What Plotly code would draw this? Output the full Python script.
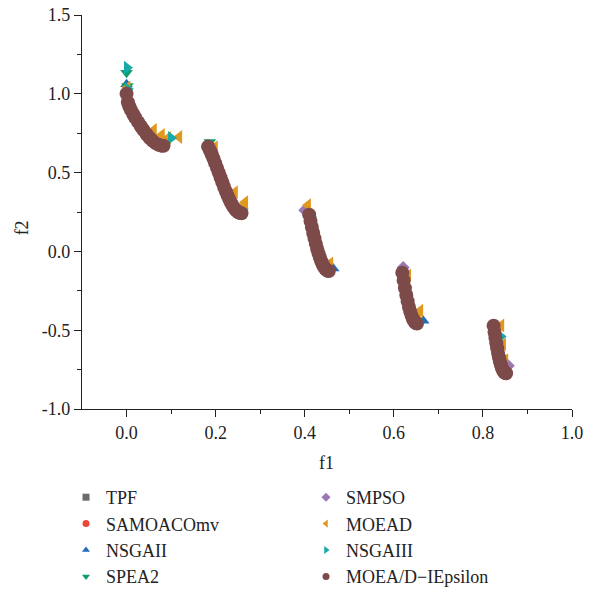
import plotly.graph_objects as go

# ---- data ----
tpf_x = [0.000, 0.010, 0.020, 0.030, 0.040, 0.050, 0.060, 0.070, 0.083,
         0.183, 0.191, 0.199, 0.207, 0.215, 0.223, 0.231, 0.239, 0.247, 0.258,
         0.410, 0.416, 0.422, 0.428, 0.434, 0.440, 0.446, 0.454,
         0.619, 0.625, 0.631, 0.637, 0.643, 0.652,
         0.824, 0.828, 0.832, 0.836, 0.840, 0.846, 0.852]
tpf_y = [1.000, 0.897, 0.847, 0.803, 0.762, 0.726, 0.698, 0.679, 0.670,
         0.665, 0.616, 0.560, 0.500, 0.439, 0.380, 0.328, 0.286, 0.257, 0.242,
         0.233, 0.155, 0.082, 0.016, -0.039, -0.082, -0.110, -0.124,
         -0.135, -0.233, -0.316, -0.383, -0.430, -0.458,
         -0.472, -0.548, -0.614, -0.671, -0.715, -0.759, -0.773]

samoaco_x = [0.001, 0.015, 0.035, 0.055, 0.075,
             0.185, 0.200, 0.215, 0.230, 0.250,
             0.411, 0.425, 0.438, 0.452,
             0.620, 0.630, 0.641, 0.651,
             0.825, 0.833, 0.842, 0.851]
samoaco_y = [0.975, 0.868, 0.780, 0.710, 0.672,
             0.652, 0.552, 0.438, 0.334, 0.250,
             0.219, 0.048, -0.069, -0.123,
             -0.150, -0.303, -0.415, -0.457,
             -0.492, -0.629, -0.733, -0.774]

nsgaii_x = [0.000, 0.012, 0.032, 0.058, 0.080,
            0.186, 0.204, 0.222, 0.240, 0.256,
            0.412, 0.427, 0.442, 0.464,
            0.622, 0.636, 0.650, 0.666,
            0.826, 0.837, 0.848]
nsgaii_y = [1.060, 0.890, 0.800, 0.708, 0.675,
            0.650, 0.526, 0.392, 0.287, 0.246,
            0.210, 0.030, -0.090, -0.108,
            -0.180, -0.370, -0.452, -0.440,
            -0.505, -0.680, -0.765]

spea2_x = [0.000, 0.002, 0.020, 0.045, 0.085,
           0.187, 0.205, 0.226, 0.248, 0.260,
           0.413, 0.430, 0.448,
           0.623, 0.638, 0.652,
           0.827, 0.839, 0.850]
spea2_y = [1.134, 1.050, 0.855, 0.755, 0.700,
           0.694, 0.520, 0.365, 0.265, 0.255,
           0.205, 0.000, -0.110,
           -0.190, -0.385, -0.450,
           -0.515, -0.700, -0.770]

smpso_x = [0.004, 0.025, 0.050, 0.070,
           0.190, 0.212, 0.234, 0.252,
           0.400, 0.418, 0.436, 0.450,
           0.621, 0.633, 0.647,
           0.829, 0.843, 0.857]
smpso_y = [0.960, 0.830, 0.735, 0.685,
           0.630, 0.470, 0.315, 0.255,
           0.261, 0.135, -0.045, -0.115,
           -0.102, -0.330, -0.445,
           -0.560, -0.735, -0.725]

moead_x = [0.002, 0.061, 0.079, 0.093, 0.118,
           0.198, 0.243, 0.266, 0.262,
           0.407, 0.457, 0.450,
           0.632, 0.659, 0.655,
           0.841, 0.845, 0.850]
moead_y = [1.040, 0.771, 0.739, 0.720, 0.726,
           0.662, 0.376, 0.312, 0.290,
           0.293, -0.076, -0.090,
           -0.153, -0.376, -0.420,
           -0.470, -0.590, -0.690]

nsgaiii_x = [0.001, 0.003, 0.030, 0.068, 0.100,
             0.192, 0.218, 0.238, 0.258,
             0.414, 0.433, 0.452,
             0.624, 0.640, 0.655,
             0.840, 0.846]
nsgaiii_y = [1.166, 1.030, 0.815, 0.700, 0.720,
             0.640, 0.425, 0.305, 0.260,
             0.195, -0.015, -0.105,
             -0.205, -0.400, -0.445,
             -0.540, -0.745]

moeadie_x = [0.000, 0.003, 0.006, 0.010, 0.015, 0.020, 0.026, 0.032, 0.038, 0.045,
             0.052, 0.058, 0.065, 0.072, 0.078, 0.083,
             0.183, 0.187, 0.191, 0.195, 0.199, 0.203, 0.207, 0.211, 0.215, 0.219,
             0.223, 0.227, 0.231, 0.235, 0.239, 0.243, 0.247, 0.251, 0.255, 0.258,
             0.410, 0.413, 0.416, 0.419, 0.422, 0.425, 0.428, 0.431, 0.434, 0.437,
             0.440, 0.443, 0.446, 0.449, 0.452, 0.454,
             0.619, 0.622, 0.625, 0.628, 0.631, 0.634, 0.637, 0.640, 0.643, 0.646,
             0.649, 0.652,
             0.824, 0.826, 0.828, 0.830, 0.832, 0.834, 0.836, 0.838, 0.840, 0.842,
             0.844, 0.846, 0.848, 0.850, 0.852]
moeadie_y = [1.000, 0.945, 0.921, 0.897, 0.870, 0.847, 0.820, 0.794, 0.770, 0.743,
             0.720, 0.703, 0.687, 0.676, 0.671, 0.670,
             0.665, 0.642, 0.616, 0.589, 0.560, 0.530, 0.500, 0.469, 0.439, 0.409,
             0.380, 0.353, 0.328, 0.306, 0.286, 0.270, 0.257, 0.248, 0.243, 0.242,
             0.233, 0.193, 0.155, 0.117, 0.082, 0.048, 0.016, -0.013, -0.039, -0.062,
             -0.082, -0.098, -0.110, -0.119, -0.123, -0.124,
             -0.135, -0.185, -0.233, -0.277, -0.316, -0.352, -0.383, -0.409, -0.430, -0.445,
             -0.454, -0.458,
             -0.472, -0.511, -0.548, -0.583, -0.614, -0.644, -0.671, -0.695, -0.715, -0.733,
             -0.748, -0.759, -0.767, -0.772, -0.773]

names = ["TPF", "SAMOACOmv", "NSGAII", "SPEA2", "SMPSO", "MOEAD", "NSGAIII", "MOEA/D\u2212IEpsilon"]
xs = [tpf_x, samoaco_x, nsgaii_x, spea2_x, smpso_x, moead_x, nsgaiii_x, moeadie_x]
ys = [tpf_y, samoaco_y, nsgaii_y, spea2_y, smpso_y, moead_y, nsgaiii_y, moeadie_y]
colors = ["#6b6b6b", "#ef4438", "#1f6db8", "#0f9e6e", "#9b77b4", "#e0981f", "#17aaa8", "#7d4a4a"]
symbols = ["square", "circle", "triangle-up", "triangle-down", "diamond",
           "triangle-left", "triangle-right", "circle"]
sizes = [9, 9, 11, 11, 10, 12, 12, 14]
leg_sizes = [7, 7, 7, 7, 7, 7, 7, 7]

FONT = "Liberation Serif"
W, H = 594, 614

fig = go.Figure()
for n, x, y, c, s, sz in zip(names, xs, ys, colors, symbols, sizes):
    fig.add_trace(go.Scatter(x=x, y=y, mode="markers", name=n, showlegend=False,
                             marker=dict(color=c, symbol=s, size=sz, line=dict(width=0))))

# legend entries (small symbols), two columns
for i, (n, c, s, ls) in enumerate(zip(names, colors, symbols, leg_sizes)):
    fig.add_trace(go.Scatter(x=[None], y=[None], mode="markers", name=n,
                             legend="legend" if i < 4 else "legend2",
                             marker=dict(color=c, symbol=s, size=ls, line=dict(width=0))))

axis_common = dict(showline=True, linecolor="#222", linewidth=1.3, showgrid=False,
                   zeroline=False, ticks="outside", ticklen=7, tickwidth=1.3, tickcolor="#222",
                   tickfont=dict(family=FONT, size=18, color="#222"))

fig.update_xaxes(range=[-0.1, 1.0], tickvals=[0.0, 0.2, 0.4, 0.6, 0.8, 1.0],
                 ticktext=["0.0", "0.2", "0.4", "0.6", "0.8", "1.0"],
                 minor=dict(tickvals=[0.1, 0.3, 0.5, 0.7, 0.9], ticks="outside", ticklen=4,
                            tickwidth=1.3, tickcolor="#222"),
                 **axis_common)
fig.update_yaxes(range=[-1.0, 1.5], tickvals=[-1.0, -0.5, 0.0, 0.5, 1.0, 1.5],
                 ticktext=["-1.0", "-0.5", "0.0", "0.5", "1.0", "1.5"],
                 minor=dict(tickvals=[-0.75, -0.25, 0.25, 0.75, 1.25], ticks="outside", ticklen=4,
                            tickwidth=1.3, tickcolor="#222"),
                 **axis_common)

# axis titles as annotations
fig.add_annotation(text="f1", xref="paper", yref="paper", x=0.498, y=-0.136,
                   showarrow=False, xanchor="center", yanchor="middle",
                   font=dict(family=FONT, size=18, color="#222"))
fig.add_annotation(text="f2", xref="paper", yref="paper", x=-0.122, y=0.459,
                   showarrow=False, xanchor="center", yanchor="middle", textangle=-90,
                   font=dict(family=FONT, size=18, color="#222"))

leg_common = dict(font=dict(family=FONT, size=18, color="#222"), bgcolor="rgba(0,0,0,0)",
                  xref="container", yref="container",
                  yanchor="top", xanchor="left", tracegroupgap=0, traceorder="normal")
fig.update_layout(
    width=W, height=H,
    margin=dict(l=82, r=22, t=15, b=205, autoexpand=False),
    plot_bgcolor="white", paper_bgcolor="white",
    legend=dict(x=66 / W, y=1 - 479 / H, **leg_common),
    legend2=dict(x=306 / W, y=1 - 479 / H, **leg_common),
)

fig.write_html("out.html", config={"displayModeBar": False},
               post_script="document.body.style.margin='0';document.body.style.padding='0';")
